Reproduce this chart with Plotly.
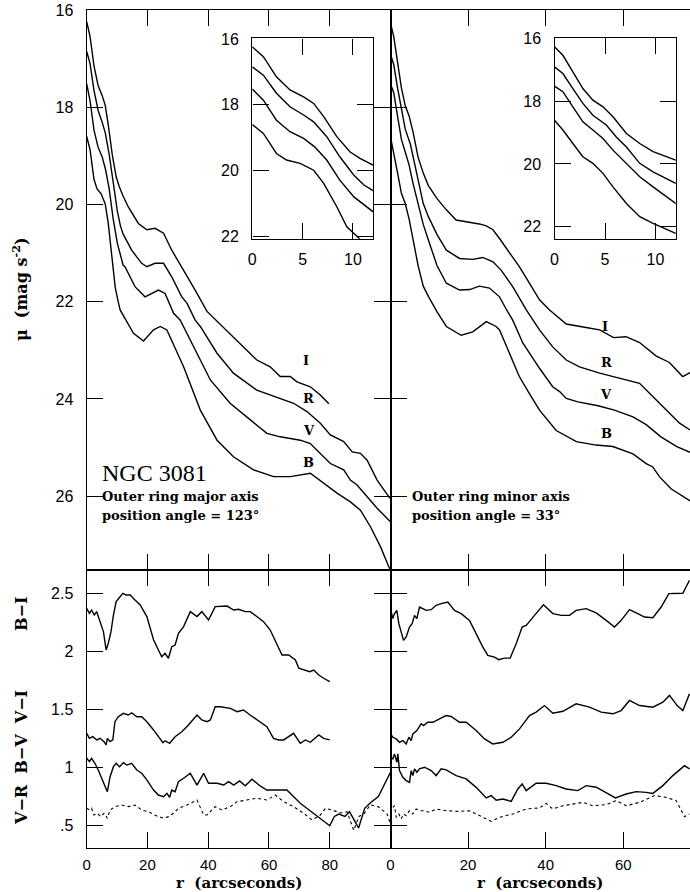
import plotly.graph_objects as go

# ---------------- DATA ----------------
# Major axis (left column), surface brightness profiles (mag / arcsec^2)
maj_I_r = [0, 1.1, 2.4, 3.75, 5.1, 6.1, 7.1, 8.4, 9.7, 10.7, 12, 13.7, 17.0, 19.8, 22.5, 25.3, 28.0, 31.3, 35.7, 39.6, 44.0, 48.3, 56.0, 60.4, 63.7, 67.0, 69.2, 73.6, 76.9, 79.7]
maj_I_mu = [16.24, 16.54, 17.15, 17.55, 17.76, 17.96, 18.36, 18.97, 19.43, 19.63, 19.83, 20.05, 20.39, 20.52, 20.49, 20.59, 20.94, 21.28, 21.76, 22.20, 22.47, 22.72, 23.20, 23.34, 23.54, 23.54, 23.65, 23.75, 23.92, 24.10]
maj_R_r = [0, 1.1, 2.4, 3.75, 5.1, 6.1, 7.4, 8.7, 10.1, 11.1, 12, 14.8, 18.1, 19.8, 22.5, 25.3, 28.0, 31.3, 33.0, 35.7, 37.4, 42.9, 48.3, 56.0, 63.7, 68.1, 72.5, 76.9, 80.2, 84.6, 87.4, 90.1, 92.3, 95.6, 99.4, 100]
maj_R_mu = [16.85, 17.10, 17.65, 18.06, 18.31, 18.52, 18.97, 19.58, 20.14, 20.44, 20.61, 20.94, 21.21, 21.28, 21.21, 21.21, 21.49, 21.90, 22.03, 22.38, 22.51, 23.06, 23.47, 23.82, 23.99, 24.09, 24.26, 24.50, 24.74, 24.88, 25.09, 25.12, 25.26, 25.67, 26.01, 26.05]
maj_V_r = [0, 1.1, 2.4, 3.75, 5.1, 6.2, 7.4, 8.7, 10.1, 11.1, 12, 12.6, 15.9, 19.2, 21.4, 23.6, 25.8, 28.6, 30.8, 35.2, 40.7, 47.2, 52.8, 59.3, 63.7, 70.3, 73.6, 76.9, 80.2, 84.6, 86.8, 89.0, 92.3, 95.6, 99.4, 100]
maj_V_mu = [17.52, 17.86, 18.47, 18.82, 19.02, 19.28, 19.68, 20.29, 20.80, 21.05, 21.25, 21.28, 21.69, 21.90, 21.83, 21.76, 21.83, 22.24, 22.38, 22.93, 23.61, 24.09, 24.37, 24.71, 24.78, 24.85, 24.92, 25.12, 25.33, 25.46, 25.67, 25.77, 26.01, 26.25, 26.49, 26.53]
maj_B_r = [0, 1.1, 2.4, 3.4, 4.75, 6.1, 7.1, 8.4, 9.4, 10.4, 11.0, 15.4, 18.7, 22.0, 24.2, 26.4, 31.9, 37.4, 42.9, 48.3, 54.9, 61.5, 67.0, 73.6, 78.0, 82.4, 86.8, 90.1, 93.4, 96.7, 99.4, 100]
maj_B_mu = [18.60, 18.87, 19.48, 19.68, 19.78, 19.99, 20.39, 21.10, 21.71, 22.01, 22.17, 22.65, 22.81, 22.58, 22.51, 22.58, 23.34, 24.23, 24.85, 25.19, 25.46, 25.60, 25.60, 25.53, 25.74, 25.94, 26.12, 26.29, 26.63, 27.04, 27.45, 27.52]

# Minor axis (right column)
min_I_r = [0, 0.83, 1.82, 2.81, 3.8, 4.8, 5.79, 7.12, 8.44, 9.76, 12, 14.4, 16.9, 19.5, 22.9, 24.7, 26.4, 28.1, 30.7, 33.2, 35.8, 38.4, 41.0, 45.3, 50.4, 53.9, 57.5, 60.7, 64.2, 68.5, 71.9, 75.3, 77.2]
min_I_mu = [16.27, 16.54, 17.07, 17.60, 17.97, 18.18, 18.50, 19.03, 19.35, 19.61, 19.88, 20.11, 20.32, 20.35, 20.40, 20.44, 20.52, 20.70, 21.00, 21.28, 21.62, 21.96, 22.17, 22.46, 22.53, 22.58, 22.74, 22.72, 22.84, 23.12, 23.25, 23.54, 23.46]
min_R_r = [0, 0.83, 1.82, 2.81, 3.8, 5.13, 6.12, 7.12, 8.44, 9.76, 12, 14.4, 17.8, 21.2, 23.8, 26.4, 28.5, 31.5, 35.0, 38.4, 41.8, 45.3, 48.7, 53.9, 57.3, 60.7, 64.2, 67.6, 71.1, 74.5, 77.2]
min_R_mu = [16.91, 17.12, 17.60, 18.07, 18.45, 18.76, 19.14, 19.46, 19.98, 20.25, 20.62, 20.94, 21.11, 21.13, 21.09, 21.18, 21.35, 21.69, 22.17, 22.58, 22.93, 23.20, 23.34, 23.47, 23.54, 23.61, 23.68, 23.95, 24.23, 24.50, 24.64]
min_V_r = [0, 0.83, 1.82, 2.81, 3.8, 4.8, 5.79, 7.12, 8.44, 9.76, 12, 14.4, 17.8, 20.4, 22.9, 25.5, 28.1, 29.8, 31.5, 34.1, 38.4, 41.8, 43.6, 45.3, 48.3, 53.5, 57.7, 62.5, 65.9, 69.7, 73.8, 77.2]
min_V_mu = [17.52, 17.70, 18.18, 18.66, 18.92, 19.19, 19.56, 19.98, 20.41, 20.73, 21.26, 21.62, 21.76, 21.75, 21.68, 21.72, 21.90, 22.15, 22.38, 22.85, 23.37, 23.75, 23.85, 23.99, 24.06, 24.14, 24.23, 24.37, 24.53, 24.78, 24.98, 25.10]
min_B_r = [0, 0.83, 1.82, 2.81, 3.8, 4.8, 5.79, 7.12, 8.44, 9.76, 12, 14.4, 18.2, 21.2, 24.7, 27.2, 28.1, 30.7, 33.2, 35.8, 38.4, 42.7, 47.9, 53.0, 57.3, 62.5, 65.9, 67.6, 69.3, 72.3, 77.2]
min_B_mu = [18.61, 18.92, 19.35, 19.77, 19.98, 20.30, 20.73, 21.26, 21.68, 21.89, 22.21, 22.51, 22.69, 22.62, 22.41, 22.51, 22.58, 23.06, 23.54, 23.89, 24.23, 24.65, 24.88, 24.95, 24.98, 25.13, 25.33, 25.40, 25.60, 25.85, 26.10]

# Colour profiles, major axis
maj_BI_r = [0, 0.9, 1.6, 2.5, 3.3, 4.4, 5.5, 6.4, 7.1, 8.0, 8.8, 9.7, 11.0, 11.9, 13.0, 14.3, 15.9, 17.6, 19.8, 22.0, 23.6, 24.7, 25.8, 26.9, 28.0, 29.1, 30.2, 31.9, 34.1, 36.3, 37.9, 40.1, 42.3, 44.0, 46.2, 48.4, 50.0, 52.2, 53.8, 56.0, 58.2, 60.4, 62.6, 64.3, 66.5, 68.7, 69.8, 71.4, 73.4, 74.7, 76.4, 78.0, 80.0]
maj_BI = [2.371, 2.328, 2.356, 2.313, 2.342, 2.256, 2.17, 2.012, 2.07, 2.17, 2.313, 2.428, 2.471, 2.5, 2.485, 2.485, 2.442, 2.40, 2.30, 2.10, 2.012, 1.954, 1.984, 1.941, 2.04, 2.055, 2.156, 2.213, 2.342, 2.30, 2.342, 2.27, 2.385, 2.385, 2.39, 2.356, 2.362, 2.342, 2.342, 2.30, 2.256, 2.184, 2.07, 1.969, 1.969, 1.926, 1.855, 1.84, 1.825, 1.84, 1.797, 1.769, 1.74]
maj_VI_r = [0, 0.9, 2.0, 3.3, 4.4, 5.7, 6.4, 6.8, 7.7, 8.6, 9.3, 10.4, 12.1, 13.7, 14.8, 16.5, 18.1, 19.8, 22.0, 23.6, 25.1, 25.8, 27.3, 29.1, 31.3, 33.5, 36.3, 37.9, 39.6, 40.7, 42.3, 44.0, 47.3, 49.5, 51.6, 53.8, 57.1, 59.3, 61.5, 63.2, 64.8, 68.1, 70.3, 72.0, 73.6, 76.4, 78.0, 80.0]
maj_VI = [1.295, 1.252, 1.266, 1.238, 1.252, 1.223, 1.195, 1.252, 1.223, 1.238, 1.395, 1.438, 1.467, 1.453, 1.472, 1.438, 1.438, 1.395, 1.324, 1.266, 1.214, 1.231, 1.209, 1.266, 1.309, 1.367, 1.453, 1.41, 1.395, 1.41, 1.524, 1.524, 1.51, 1.481, 1.496, 1.453, 1.395, 1.352, 1.252, 1.238, 1.238, 1.295, 1.209, 1.238, 1.218, 1.281, 1.252, 1.238]
maj_BV_r = [0, 0.9, 1.6, 2.7, 3.8, 4.9, 6.0, 6.8, 7.7, 8.8, 9.7, 10.8, 12.1, 13.2, 14.8, 16.5, 18.1, 19.8, 22.0, 23.6, 25.3, 26.4, 27.3, 28.0, 29.1, 30.2, 31.9, 34.1, 36.3, 38.5, 40.1, 42.9, 45.1, 46.7, 48.4, 50.3, 52.2, 54.4, 57.1, 59.3, 62.6, 65.9, 70.3, 74.7, 80.0, 81.5, 83.0, 85.0, 86.5, 88.0, 89.5, 91.5, 93.5, 96.0, 98.0, 100]
maj_BV = [1.08, 1.051, 1.08, 1.037, 0.979, 0.908, 0.85, 0.793, 0.922, 1.008, 1.037, 1.008, 1.042, 1.022, 1.037, 0.979, 0.951, 0.894, 0.807, 0.764, 0.75, 0.779, 0.744, 0.807, 0.793, 0.879, 0.908, 0.951, 0.85, 0.951, 0.865, 0.865, 0.85, 0.879, 0.85, 0.885, 0.844, 0.90, 0.842, 0.807, 0.807, 0.807, 0.693, 0.607, 0.50, 0.58, 0.60, 0.58, 0.62, 0.55, 0.48, 0.65, 0.70, 0.75, 0.85, 0.96]
maj_VR_r = [0, 1.1, 1.6, 2.4, 3.5, 4.6, 5.7, 6.8, 7.7, 9.3, 11.5, 13.7, 15.9, 18.1, 20.3, 23.1, 25.3, 26.9, 28.6, 30.2, 33.0, 36.3, 38.5, 39.6, 42.3, 44.5, 47.3, 49.5, 52.7, 56.0, 59.3, 62.1, 64.8, 68.1, 71.4, 74.2, 76.9, 78.6, 81.3, 83.5, 85.7, 87.9, 89.6, 91.2, 93.4, 96.2, 98.9, 100]
maj_VR = [0.65, 0.635, 0.65, 0.592, 0.607, 0.578, 0.607, 0.564, 0.635, 0.664, 0.678, 0.664, 0.678, 0.635, 0.62, 0.583, 0.564, 0.578, 0.607, 0.65, 0.678, 0.721, 0.592, 0.592, 0.664, 0.635, 0.664, 0.707, 0.721, 0.736, 0.721, 0.764, 0.707, 0.664, 0.607, 0.549, 0.592, 0.65, 0.63, 0.61, 0.62, 0.46, 0.58, 0.60, 0.68, 0.66, 0.60, 0.51]

# Colour profiles, minor axis
min_BI_r = [0, 0.6, 1.03, 1.63, 2.15, 2.75, 3.35, 4.04, 4.9, 5.58, 6.19, 6.79, 7.47, 8.33, 9.19, 10.48, 11.77, 13.06, 14.78, 16.49, 18.21, 20.36, 22.08, 23.8, 25.09, 26.8, 27.92, 29.38, 30.84, 32.39, 33.93, 34.97, 37.11, 39.43, 41.84, 43.99, 46.13, 47.85, 50.43, 53.01, 55.59, 57.73, 59.45, 61.6, 63.75, 65.46, 67.61, 69.76, 71.74, 73.63, 75.34, 77.06]
min_BI = [2.368, 2.282, 2.325, 2.353, 2.239, 2.153, 2.095, 2.124, 2.21, 2.239, 2.31, 2.282, 2.382, 2.368, 2.353, 2.359, 2.397, 2.411, 2.425, 2.353, 2.325, 2.267, 2.153, 2.037, 1.966, 1.951, 1.929, 1.942, 1.942, 2.066, 2.21, 2.224, 2.31, 2.402, 2.325, 2.31, 2.31, 2.353, 2.368, 2.331, 2.267, 2.21, 2.267, 2.36, 2.325, 2.296, 2.29, 2.382, 2.497, 2.497, 2.5, 2.612]
min_VI_r = [0, 0.6, 1.46, 2.32, 3.18, 4.04, 4.73, 5.33, 5.76, 6.79, 7.9, 8.5, 9.62, 10.91, 12.63, 14.35, 15.64, 17.78, 19.5, 22.08, 24.23, 26.37, 28.95, 31.1, 33.25, 35.82, 37.54, 39.69, 41.84, 44.42, 47.85, 51.29, 54.3, 57.3, 59.45, 61.6, 64.18, 67.61, 70.19, 71.91, 73.88, 75.34, 77.06]
min_VI = [1.29, 1.261, 1.247, 1.218, 1.233, 1.204, 1.261, 1.233, 1.29, 1.319, 1.377, 1.362, 1.39, 1.39, 1.42, 1.448, 1.44, 1.39, 1.39, 1.319, 1.247, 1.204, 1.218, 1.261, 1.333, 1.448, 1.477, 1.534, 1.468, 1.485, 1.549, 1.52, 1.477, 1.463, 1.491, 1.578, 1.534, 1.52, 1.563, 1.621, 1.534, 1.491, 1.635]
min_BV_r = [0, 0.6, 1.03, 1.63, 1.89, 2.32, 3.18, 4.04, 4.9, 5.33, 5.76, 6.19, 6.79, 7.47, 8.76, 10.48, 11.77, 13.06, 14.35, 16.92, 19.5, 22.08, 24.66, 25.95, 27.23, 28.95, 31.1, 32.82, 33.93, 34.97, 37.54, 40.12, 42.7, 45.27, 48.28, 50.43, 53.01, 55.59, 57.99, 60.74, 63.32, 65.89, 67.61, 70.19, 72.77, 75.77, 77.06]
min_BV = [1.089, 1.075, 1.118, 1.046, 1.118, 0.974, 0.916, 0.888, 0.873, 0.974, 0.931, 0.989, 0.96, 0.989, 1.003, 0.974, 0.931, 0.989, 0.98, 0.931, 0.903, 0.83, 0.739, 0.759, 0.72, 0.729, 0.709, 0.816, 0.859, 0.802, 0.865, 0.865, 0.845, 0.816, 0.802, 0.845, 0.831, 0.787, 0.739, 0.773, 0.793, 0.787, 0.778, 0.845, 0.931, 1.017, 0.989]
min_VR_r = [0.6, 1.03, 1.46, 2.15, 2.75, 3.35, 4.04, 4.9, 5.76, 6.62, 7.47, 8.33, 10.05, 11.77, 14.35, 17.78, 20.36, 22.94, 25.95, 28.1, 31.53, 34.97, 38.4, 40.12, 41.84, 44.42, 47.0, 49.57, 52.15, 55.59, 58.17, 60.74, 64.18, 68.05, 71.05, 73.63, 75.77, 77.06]
min_VR = [0.658, 0.672, 0.572, 0.601, 0.558, 0.601, 0.586, 0.629, 0.601, 0.644, 0.629, 0.629, 0.615, 0.644, 0.629, 0.623, 0.629, 0.586, 0.537, 0.572, 0.601, 0.644, 0.653, 0.692, 0.644, 0.672, 0.687, 0.701, 0.672, 0.681, 0.716, 0.672, 0.701, 0.759, 0.744, 0.716, 0.578, 0.601]

# Ticks / labels
mu_ticks = [16, 18, 20, 22, 24, 26]
inset_mu_ticks = [16, 18, 20, 22]
col_ticks = [0.5, 1, 1.5, 2, 2.5]
col_ticktext = [".5", "1", "1.5", "2", "2.5"]
r_ticks_left = [0, 20, 40, 60, 80]
r_ticks_right = [0, 20, 40, 60]
inset_r_ticks = [0, 5, 10]
band_labels = ["I", "R", "V", "B"]
maj_label_pos = [(72.3, 23.20), (73.1, 23.99), (73.1, 24.65), (73.1, 25.30)]
min_label_pos = [(55.3, 22.50), (55.6, 23.26), (55.6, 23.90), (55.6, 24.71)]

# ---------------- LAYOUT GEOMETRY (pixels) ----------------
W, H = 690, 892
def fx(p):
    return p / W
def fy(p):
    return 1 - p / H

L0, MID, R1 = 86.7, 390.5, 690.0
TOP, SPLIT, BOT = 10.1, 569.7, 848.3

fig = go.Figure()
LW = 1.4

def add(x, y, xa, ya, dash=None, width=LW):
    fig.add_trace(go.Scatter(x=x, y=y, mode="lines",
                             line=dict(color="black", width=width, dash=dash),
                             xaxis=xa, yaxis=ya, hoverinfo="skip", showlegend=False))

for (rr, mm) in [(maj_I_r, maj_I_mu), (maj_R_r, maj_R_mu), (maj_V_r, maj_V_mu), (maj_B_r, maj_B_mu)]:
    add(rr, mm, "x", "y")
    add(rr, mm, "x5", "y5")
for (rr, mm) in [(min_I_r, min_I_mu), (min_R_r, min_R_mu), (min_V_r, min_V_mu), (min_B_r, min_B_mu)]:
    add(rr, mm, "x3", "y3")
    add(rr, mm, "x6", "y6")
add(maj_BI_r, maj_BI, "x2", "y2")
add(maj_VI_r, maj_VI, "x2", "y2")
add(maj_BV_r, maj_BV, "x2", "y2")
add(maj_VR_r, maj_VR, "x2", "y2", dash="dot", width=1.1)
add(min_BI_r, min_BI, "x4", "y4")
add(min_VI_r, min_VI, "x4", "y4")
add(min_BV_r, min_BV, "x4", "y4")
add(min_VR_r, min_VR, "x4", "y4", dash="dot", width=1.1)

TICKFONT = dict(family="Liberation Sans", size=16, color="black")
base = dict(showgrid=False, zeroline=False, showline=True, linecolor="black", linewidth=LW,
            ticks="inside", ticklen=16, tickwidth=LW, tickcolor="black", tickfont=TICKFONT)

def ax(**kw):
    d = dict(base)
    d.update(kw)
    return d

mu_range = [16 + (SPLIT - TOP) / 48.6, 16]
col_range = [0.5 - (BOT - 825.7) / 116.2, 0.5 + (825.7 - SPLIT) / 116.2]
xr_right = (R1 - MID) / 3.88
XTICKFONT = dict(family="Liberation Sans", size=15, color="black")

lay = dict(
    width=W, height=H, margin=dict(l=0, r=0, t=0, b=0, autoexpand=False),
    paper_bgcolor="white", plot_bgcolor="white", showlegend=False,
    xaxis=ax(domain=[fx(L0), fx(MID)], range=[0, 100], anchor="y", tickvals=[20, 40, 60, 80],
             showticklabels=False, mirror="ticks"),
    yaxis=ax(domain=[fy(SPLIT), fy(TOP)], range=mu_range, anchor="x", tickvals=mu_ticks,
             mirror="ticks", ticklabelstandoff=9),
    xaxis2=ax(domain=[fx(L0), fx(MID)], range=[0, 100], anchor="y2", tickvals=r_ticks_left,
              mirror="ticks", ticklabelstandoff=2, tickfont=XTICKFONT),
    yaxis2=ax(domain=[fy(BOT), fy(SPLIT)], range=col_range, anchor="x2", tickvals=col_ticks,
              ticktext=col_ticktext, mirror="ticks", ticklabelstandoff=9),
    xaxis3=ax(domain=[fx(MID), 1], range=[0, xr_right], anchor="y3", tickvals=[20, 40, 60],
              showticklabels=False, mirror="ticks"),
    yaxis3=ax(domain=[fy(SPLIT), fy(TOP)], range=mu_range, anchor="x3", tickvals=mu_ticks,
              showticklabels=False, mirror=False),
    yaxis7=ax(range=mu_range, anchor="x3", overlaying="y3", side="right", tickvals=mu_ticks,
              showticklabels=False, showline=False),
    xaxis4=ax(domain=[fx(MID), 1], range=[0, xr_right], anchor="y4", tickvals=r_ticks_right,
              mirror="ticks", ticklabelstandoff=2, tickfont=XTICKFONT),
    yaxis4=ax(domain=[fy(BOT), fy(SPLIT)], range=col_range, anchor="x4", tickvals=col_ticks,
              showticklabels=False, mirror=False),
    yaxis8=ax(range=col_range, anchor="x4", overlaying="y4", side="right", tickvals=col_ticks,
              showticklabels=False, showline=False),
    xaxis5=ax(domain=[fx(252.3), fx(373.0)], range=[0, 12], anchor="y5", tickvals=inset_r_ticks,
              mirror="ticks", ticklabelstandoff=6),
    yaxis5=ax(domain=[fy(238.7), fy(38.3)], range=[22.07, 15.98], anchor="x5",
              tickvals=inset_mu_ticks, mirror="ticks", ticklabelstandoff=9),
    xaxis6=ax(domain=[fx(554.5), fx(675.7)], range=[0, 12], anchor="y6", tickvals=inset_r_ticks,
              mirror="ticks", ticklabelstandoff=6),
    yaxis6=ax(domain=[fy(239.0), fy(37.7)], range=[22.39, 15.98], anchor="x6",
              tickvals=inset_mu_ticks, mirror="ticks", ticklabelstandoff=9),
)
fig.update_layout(**lay)

SERIF = "DejaVu Serif"
ann = []
def txt(text, x, y, xref="paper", yref="paper", size=14, family=SERIF, xanchor="center",
        yanchor="middle", angle=0):
    ann.append(dict(text=text, x=x, y=y, xref=xref, yref=yref, showarrow=False,
                    font=dict(family=family, size=size, color="black"),
                    xanchor=xanchor, yanchor=yanchor, textangle=angle))

txt("<b>r  (arcseconds)</b>", fx((L0 + MID) / 2), fy(883), size=15)
txt("<b>r  (arcseconds)</b>", fx((MID + R1) / 2), fy(883), size=15)
txt("<b>\u03bc  (mag s<sup>-2</sup>)</b>", fx(20), fy(289), size=16, angle=-90)
txt("<b>B\u2212I</b>", fx(21), fy(614), size=16, angle=-90)
txt("<b>V\u2212R  B\u2212V  V\u2212I</b>", fx(21), fy(758), size=16, angle=-90)

for lab, (xx, yy) in zip(band_labels, maj_label_pos):
    txt("<b>" + lab + "</b>", xx, yy, xref="x", yref="y", size=13)
for lab, (xx, yy) in zip(band_labels, min_label_pos):
    txt("<b>" + lab + "</b>", xx, yy, xref="x3", yref="y3", size=13)

txt("NGC 3081", 4.4, 25.52, xref="x", yref="y", size=24, family="Liberation Serif", xanchor="left")
txt("<b>Outer ring major axis</b>", 4.4, 26.01, xref="x", yref="y", size=13, xanchor="left")
txt("<b>position angle = 123\u00b0</b>", 4.4, 26.40, xref="x", yref="y", size=13, xanchor="left")
txt("<b>Outer ring minor axis</b>", 5.0, 26.01, xref="x3", yref="y3", size=13, xanchor="left")
txt("<b>position angle = 33\u00b0</b>", 5.0, 26.40, xref="x3", yref="y3", size=13, xanchor="left")

fig.update_layout(annotations=ann)
fig.write_html("out.html", config={"displayModeBar": False},
               post_script="document.body.style.margin='0';document.body.style.overflow='hidden';")
